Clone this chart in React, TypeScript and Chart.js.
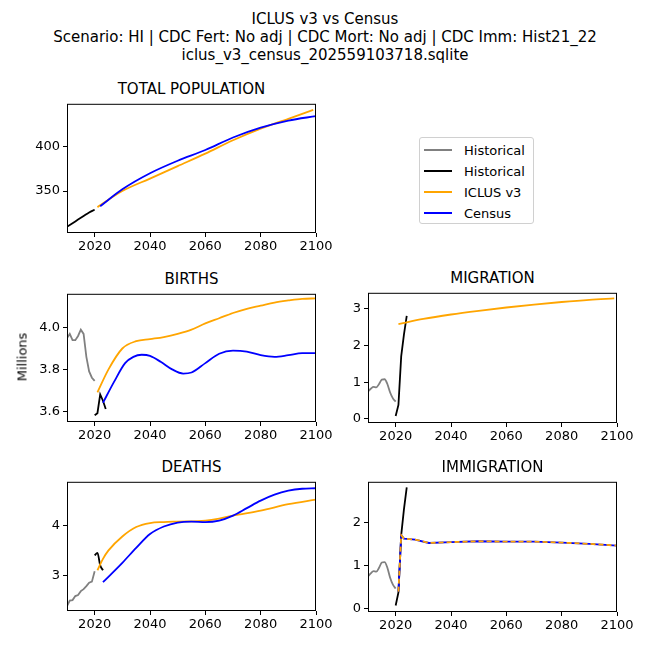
import React, { useEffect, useRef } from 'react';
import { Chart, registerables } from 'chart.js';

Chart.register(...registerables);

const histYears = [2010, 2011, 2012, 2013, 2014, 2015, 2016, 2017, 2018, 2019, 2020];
const recentYears = [2020, 2021, 2022, 2023, 2024];

// TOTAL POPULATION
const popHistYears = [2010, 2012, 2014, 2016, 2018, 2020];
const popHist = [310, 314, 318, 322, 326, 329];
const popIclusYears = [2021, 2030, 2040, 2050, 2060, 2070, 2080, 2090, 2099];
const popIclus = [332, 350, 364, 378, 392, 407, 420, 431, 441];
const popCensusYears = [2022, 2030, 2040, 2050, 2060, 2070, 2080, 2090, 2100];
const popCensus = [333, 352, 370, 384, 396, 410, 421, 429, 434];

// BIRTHS
const birthHist = [3.95, 3.97, 3.94, 3.94, 3.96, 3.99, 3.97, 3.86, 3.79, 3.76, 3.745];
const birthRecent = [3.58, 3.59, 3.68, 3.65, 3.61];
const birthIclusYears = [2021, 2025, 2030, 2035, 2040, 2045, 2050, 2055, 2060, 2065, 2070, 2075, 2080, 2085, 2090, 2095, 2100];
const birthIclus = [3.69, 3.8, 3.9, 3.935, 3.945, 3.955, 3.97, 3.99, 4.02, 4.045, 4.07, 4.09, 4.105, 4.12, 4.13, 4.138, 4.14];
const birthCensusYears = [2023, 2027, 2031, 2034, 2037, 2040, 2044, 2048, 2052, 2055, 2060, 2065, 2070, 2075, 2080, 2085, 2090, 2095, 2100];
const birthCensus = [3.64, 3.74, 3.83, 3.86, 3.87, 3.865, 3.835, 3.8, 3.78, 3.785, 3.83, 3.875, 3.89, 3.885, 3.868, 3.86, 3.868, 3.878, 3.878];

// MIGRATION
const migHist = [0.75, 0.82, 0.87, 0.86, 0.95, 1.07, 1.08, 0.95, 0.72, 0.56, 0.47];
const migRecent = [0.08, 0.38, 1.7, 2.3, 2.8];
const migIclusYears = [2021, 2030, 2040, 2050, 2060, 2070, 2080, 2090, 2099];
const migIclus = [2.58, 2.72, 2.84, 2.94, 3.03, 3.11, 3.18, 3.24, 3.28];

// DEATHS
const deathHist = [2.38, 2.49, 2.5, 2.58, 2.6, 2.68, 2.72, 2.78, 2.85, 2.87, 3.08];
const deathRecentYears = [2020, 2021, 2022, 2023];
const deathRecent = [3.4, 3.45, 3.2, 3.1];
const deathIclusYears = [2021, 2023, 2025, 2030, 2035, 2040, 2045, 2050, 2060, 2065, 2070, 2080, 2090, 2100];
const deathIclus = [3.1, 3.33, 3.5, 3.78, 3.97, 4.05, 4.07, 4.08, 4.1, 4.14, 4.2, 4.3, 4.43, 4.52];
const deathCensusYears = [2023, 2030, 2035, 2040, 2045, 2050, 2055, 2060, 2065, 2070, 2075, 2080, 2085, 2090, 2095, 2100];
const deathCensus = [2.86, 3.25, 3.55, 3.83, 3.98, 4.06, 4.08, 4.07, 4.1, 4.2, 4.35, 4.5, 4.62, 4.7, 4.74, 4.75];

// IMMIGRATION
const immHist = migHist;
const immRecent = migRecent;
const immProjYears = [2021, 2022, 2023, 2027, 2032, 2040, 2050, 2060, 2070, 2080, 2090, 2100];
const immIclus = [0.4, 1.7, 1.62, 1.6, 1.52, 1.54, 1.56, 1.55, 1.55, 1.53, 1.5, 1.46];
const immCensus = [0.4, 1.7, 1.62, 1.6, 1.52, 1.54, 1.56, 1.55, 1.55, 1.53, 1.5, 1.46];

const xTicks = [2020, 2040, 2060, 2080, 2100];
const FONT = 'DejaVu Sans';

const pts = (xs: number[], ys: number[]) => xs.map((x, i) => ({ x, y: ys[i] }));

interface Series {
  xs: number[];
  ys: number[];
  color: string;
  smooth?: boolean;
  dash?: number[];
}

interface PanelProps {
  left: number;
  top: number;
  width: number;
  height: number;
  title: string;
  yMin: number;
  yMax: number;
  yTicks: number[];
  decimals: number;
  series: Series[];
}

const frame = {
  id: 'frame',
  afterDraw(chart: any) {
    const { ctx, chartArea: a } = chart;
    ctx.save();
    ctx.strokeStyle = '#000';
    ctx.lineWidth = 1;
    ctx.strokeRect(a.left + 0.5, a.top + 0.5, a.right - a.left - 1, a.bottom - a.top - 1);
    ctx.restore();
  },
};

const Panel: React.FC<PanelProps> = (p) => {
  const ref = useRef<HTMLCanvasElement | null>(null);

  useEffect(() => {
    if (!ref.current) return;
    const n = p.series.length;
    const chart = new Chart(ref.current, {
      type: 'line',
      data: {
        datasets: p.series.map((s, i) => ({
          data: pts(s.xs, s.ys),
          borderColor: s.color,
          borderWidth: 1.8,
          borderDash: s.dash || [],
          pointRadius: 0,
          fill: false,
          order: n - i, // later series drawn on top, like matplotlib
          cubicInterpolationMode: s.smooth ? 'monotone' : 'default',
        })),
      },
      options: {
        animation: false,
        responsive: false,
        layout: { padding: { top: 10, right: 24, left: 0, bottom: 0 } },
        plugins: { legend: { display: false }, tooltip: { enabled: false } },
        scales: {
          x: {
            type: 'linear',
            min: 2010,
            max: 2100,
            afterBuildTicks: (ax: any) => { ax.ticks = xTicks.map((v) => ({ value: v })); },
            afterFit: (ax: any) => { ax.height = 30; },
            ticks: { color: '#000', font: { family: FONT, size: 13 }, maxRotation: 0, padding: 2, callback: (v: any) => String(v) },
            grid: { drawOnChartArea: false, drawTicks: true, tickLength: 4, color: '#000' },
            border: { display: false },
          },
          y: {
            type: 'linear',
            min: p.yMin,
            max: p.yMax,
            afterBuildTicks: (ax: any) => { ax.ticks = p.yTicks.map((v) => ({ value: v })); },
            afterFit: (ax: any) => { ax.width = 60; },
            ticks: { color: '#000', font: { family: FONT, size: 13 }, padding: 3, callback: (v: any) => Number(v).toFixed(p.decimals) },
            grid: { drawOnChartArea: false, drawTicks: true, tickLength: 4, color: '#000' },
            border: { display: false },
          },
        },
      },
      plugins: [frame],
    });
    return () => chart.destroy();
  }, []);

  return (
    <>
      <div style={{ position: 'absolute', left: p.left, top: p.top - 23, width: p.width, textAlign: 'center', fontFamily: FONT, fontSize: 15 }}>
        {p.title}
      </div>
      <canvas
        ref={ref}
        width={p.width + 84}
        height={p.height + 40}
        style={{ position: 'absolute', left: p.left - 60, top: p.top - 10 }}
      />
    </>
  );
};

const GRAY = '#808080';
const BLACK = '#000000';
const ORANGE = '#FFA500';
const BLUE = '#0000FF';

const legendItems = [
  { label: 'Historical', color: GRAY },
  { label: 'Historical', color: BLACK },
  { label: 'ICLUS v3', color: ORANGE },
  { label: 'Census', color: BLUE },
];

export default function App() {
  return (
    <div style={{ position: 'absolute', left: 0, top: 0, width: 650, height: 650, background: '#fff', fontFamily: FONT }}>
      <div style={{ position: 'absolute', left: 0, top: 10, width: 650, textAlign: 'center', fontSize: 15, lineHeight: '18px' }}>
        ICLUS v3 vs Census<br />
        Scenario: HI | CDC Fert: No adj | CDC Mort: No adj | CDC Imm: Hist21_22<br />
        iclus_v3_census_202559103718.sqlite
      </div>

      <Panel left={67} top={103} width={249} height={130} title="TOTAL POPULATION" yMin={303} yMax={447.8} yTicks={[350, 400]} decimals={0}
        series={[
          { xs: popHistYears, ys: popHist, color: BLACK, smooth: true },
          { xs: popIclusYears, ys: popIclus, color: ORANGE, smooth: true },
          { xs: popCensusYears, ys: popCensus, color: BLUE, smooth: true },
        ]} />

      <div style={{ position: 'absolute', left: 419, top: 137, width: 113, height: 85, border: '1px solid #d0d0d0', borderRadius: 3, fontSize: 13 }}>
        {legendItems.map((it, i) => (
          <div key={i} style={{ position: 'absolute', left: 4, top: 3 + i * 21, display: 'flex', alignItems: 'center', height: 18 }}>
            <span style={{ display: 'inline-block', width: 28, height: 2, background: it.color, marginRight: 12 }} />
            <span>{it.label}</span>
          </div>
        ))}
      </div>

      <Panel left={67} top={293} width={249} height={129} title="BIRTHS" yMin={3.548} yMax={4.162} yTicks={[3.6, 3.8, 4.0]} decimals={1}
        series={[
          { xs: histYears, ys: birthHist, color: GRAY },
          { xs: recentYears, ys: birthRecent, color: BLACK },
          { xs: birthIclusYears, ys: birthIclus, color: ORANGE, smooth: true },
          { xs: birthCensusYears, ys: birthCensus, color: BLUE, smooth: true },
        ]} />
      <div style={{ position: 'absolute', left: 22, top: 357, transform: 'translate(-50%, -50%) rotate(-90deg)', fontSize: 13, color: '#000' }}>Millions</div>

      <Panel left={368} top={292} width={249} height={131} title="MIGRATION" yMin={-0.11} yMax={3.43} yTicks={[0, 1, 2, 3]} decimals={0}
        series={[
          { xs: histYears, ys: migHist, color: GRAY, smooth: true },
          { xs: recentYears, ys: migRecent, color: BLACK },
          { xs: migIclusYears, ys: migIclus, color: ORANGE, smooth: true },
        ]} />

      <Panel left={67} top={481} width={249} height={130} title="DEATHS" yMin={2.28} yMax={4.88} yTicks={[3, 4]} decimals={0}
        series={[
          { xs: histYears, ys: deathHist, color: GRAY },
          { xs: deathRecentYears, ys: deathRecent, color: BLACK, smooth: true },
          { xs: deathIclusYears, ys: deathIclus, color: ORANGE, smooth: true },
          { xs: deathCensusYears, ys: deathCensus, color: BLUE, smooth: true },
        ]} />

      <Panel left={368} top={481} width={249} height={131} title="IMMIGRATION" yMin={-0.07} yMax={2.93} yTicks={[0, 1, 2]} decimals={0}
        series={[
          { xs: histYears, ys: immHist, color: GRAY, smooth: true },
          { xs: recentYears, ys: immRecent, color: BLACK },
          { xs: immProjYears, ys: immCensus, color: BLUE },
          { xs: immProjYears, ys: immIclus, color: ORANGE, dash: [5, 3] },
        ]} />
    </div>
  );
}
